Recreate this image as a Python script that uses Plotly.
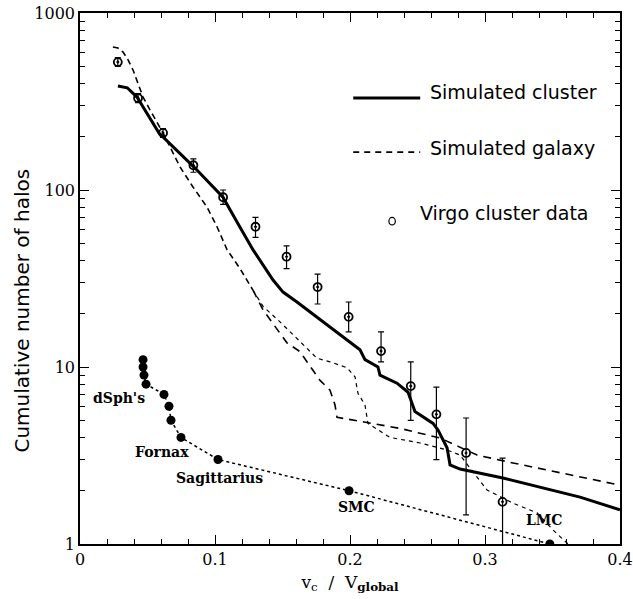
import math
import plotly.graph_objects as go

# Simulated cluster (solid): v_c / V_global and cumulative counts
cluster_v = [0.0281, 0.035, 0.0422, 0.0585, 0.0852, 0.1059, 0.1163, 0.1281, 0.1430,
             0.1504, 0.1607, 0.1704, 0.1867, 0.2000, 0.2074, 0.2111, 0.2207, 0.2222,
             0.2348, 0.2430, 0.2459, 0.2481, 0.2615, 0.2652, 0.2719, 0.2741, 0.2815,
             0.3133, 0.3704, 0.4000]
cluster_n = [387, 378, 335, 210, 133, 91, 66, 46, 31,
             26.5, 23.3, 20.5, 16.6, 13.8, 12.5, 11.0, 10.0, 9.0,
             8.1, 7.2, 6.3, 5.6, 4.8, 4.4, 3.5, 2.8, 2.65,
             2.36, 1.84, 1.56]

# Simulated galaxy (dashed), shared upper branch
galaxy_top_v = [0.0244, 0.0281, 0.0319, 0.0356, 0.0393, 0.0467, 0.0519, 0.0615, 0.0667,
                0.0741, 0.0837, 0.0941, 0.1015, 0.1089, 0.1185, 0.1281]
galaxy_top_n = [643, 634, 602, 543, 476, 335, 283, 210, 175,
                135, 104, 80, 62, 46, 36, 27.2]

# Galaxy branch that levels off towards high v
galaxy_a_v = [0.1281, 0.1356, 0.1533, 0.1630, 0.1681, 0.1778, 0.1852, 0.1889, 0.1904, 0.2163,
              0.2370, 0.2667, 0.2941, 0.3207, 0.3704, 0.4000]
galaxy_a_n = [27.2, 21.0, 13.7, 12.2, 10.7, 8.4, 7.4, 6.1, 5.2, 4.8,
              4.5, 3.97, 3.18, 2.87, 2.39, 2.15]

# Galaxy branch that falls off towards the LMC
galaxy_b_v = [0.1281, 0.1356, 0.1481, 0.1556, 0.1756, 0.1852, 0.1978, 0.2037, 0.2059, 0.2111,
              0.2133, 0.2296, 0.2519, 0.2719, 0.2815, 0.3015, 0.3207, 0.3385, 0.3504, 0.3615]
galaxy_b_n = [27.2, 22.0, 18.0, 15.8, 11.2, 10.7, 9.9, 8.8, 7.1, 6.1,
              4.8, 4.0, 3.72, 3.40, 3.18, 2.02, 1.70, 1.50, 1.2, 1.0]

# Virgo cluster data with error bars
virgo_v = [0.028, 0.043, 0.0615, 0.084, 0.106, 0.130, 0.153, 0.176, 0.199,
           0.223, 0.245, 0.264, 0.286, 0.313]
virgo_n = [528, 331, 210, 138, 91, 62, 42, 28.3, 19.2,
           12.3, 7.8, 5.4, 3.27, 1.73]
virgo_hi = [560, 350, 222, 150, 100, 70, 48.4, 33.5, 23.3,
            15.8, 10.7, 7.7, 5.15, 3.06]
virgo_lo = [500, 312, 198, 126, 83, 54, 36, 22.7, 15.8,
            10.7, 5.0, 3.0, 1.46, 0.9]

# Milky Way satellites
mw_v = [0.0467, 0.0467, 0.0474, 0.0489, 0.0622, 0.0659, 0.0674, 0.0748, 0.1022, 0.1993, 0.348]
mw_n = [11, 10, 9, 8, 7, 6, 5, 4, 3, 2, 1]

# Satellite labels
sat_labels = ["dSph's", "Fornax", "Sagittarius", "SMC", "LMC"]
sat_label_v = [0.029, 0.061, 0.103, 0.205, 0.344]
sat_label_n = [6.7, 3.3, 2.36, 1.62, 1.37]

legend_names = ["Simulated cluster", "Simulated galaxy", "Virgo cluster data"]

fig = go.Figure()

fig.add_trace(go.Scatter(x=galaxy_top_v, y=galaxy_top_n, mode="lines",
                         line=dict(color="black", width=1.6, dash="6px,4px"),
                         showlegend=False))
fig.add_trace(go.Scatter(x=galaxy_a_v, y=galaxy_a_n, mode="lines",
                         line=dict(color="black", width=1.6, dash="8px,6px"),
                         showlegend=False))
fig.add_trace(go.Scatter(x=galaxy_b_v, y=galaxy_b_n, mode="lines",
                         line=dict(color="black", width=1.2, dash="4px,4px"),
                         showlegend=False))
fig.add_trace(go.Scatter(x=cluster_v, y=cluster_n, mode="lines",
                         line=dict(color="black", width=3),
                         showlegend=False))

err_plus = [h - n for h, n in zip(virgo_hi, virgo_n)]
err_minus = [n - l for n, l in zip(virgo_n, virgo_lo)]
fig.add_trace(go.Scatter(x=virgo_v, y=virgo_n, mode="markers",
                         marker=dict(symbol="circle-open-dot", size=8, color="black",
                                     line=dict(width=1.8, color="black")),
                         error_y=dict(type="data", symmetric=False, array=err_plus,
                                      arrayminus=err_minus, thickness=1.2, width=3,
                                      color="black"),
                         showlegend=False))

fig.add_trace(go.Scatter(x=mw_v, y=mw_n, mode="lines+markers",
                         line=dict(color="black", width=1.5, dash="dot"),
                         marker=dict(symbol="circle", size=9, color="black"),
                         showlegend=False))

# annotation positions on a log axis are given in log10 units
for txt, xv, yv in zip(sat_labels, sat_label_v, sat_label_n):
    fig.add_annotation(x=xv, y=math.log10(yv), yref="y", xref="x", text=f"<b>{txt}</b>",
                       showarrow=False,
                       font=dict(family="DejaVu Serif", size=14, color="black"),
                       xanchor="center", yanchor="middle")

# Legend drawn in paper coordinates
fig.add_shape(type="line", xref="paper", yref="paper", x0=0.506, x1=0.630, y0=0.840, y1=0.840,
              line=dict(color="black", width=3))
fig.add_shape(type="line", xref="paper", yref="paper", x0=0.506, x1=0.630, y0=0.738, y1=0.738,
              line=dict(color="black", width=1.6, dash="6px,5px"))
fig.add_shape(type="circle", xref="paper", yref="paper", x0=0.572, x1=0.584, y0=0.601, y1=0.615,
              line=dict(color="black", width=1.2))
legend_y = [0.851, 0.746, 0.623]
legend_x = [0.644, 0.644, 0.626]
for name, lx, ly in zip(legend_names, legend_x, legend_y):
    fig.add_annotation(x=lx, y=ly, xref="paper", yref="paper", text=name, showarrow=False,
                       xanchor="left", yanchor="middle",
                       font=dict(family="DejaVu Sans", size=19, color="black"))

# vertical axis title, placed slightly below the axis centre
fig.add_annotation(x=-0.107, y=0.44, xref="paper", yref="paper",
                   text="Cumulative number of halos", textangle=-90, showarrow=False,
                   xanchor="center", yanchor="middle",
                   font=dict(family="DejaVu Sans", size=20, color="black"))

axis_font = dict(family="DejaVu Serif", size=16, color="black")
fig.update_xaxes(range=[0, 0.4], tickvals=[0, 0.1, 0.2, 0.3, 0.4],
                 ticktext=["0", "0.1", "0.2", "0.3", "0.4"], automargin=False,
                 ticks="inside", ticklen=9, tickwidth=1.2, tickcolor="black",
                 minor=dict(ticks="inside", dtick=0.02, ticklen=5, tickcolor="black"),
                 showline=True, linecolor="black", linewidth=1.5, mirror="ticks",
                 showgrid=False, zeroline=False, tickfont=axis_font,
                 title=dict(text="v<sub>c</sub>  /  V<sub><b>global</b></sub>",
                            font=dict(family="DejaVu Serif", size=17, color="black"),
                            standoff=8))
fig.update_yaxes(type="log", range=[0, 3], tickvals=[1, 10, 100, 1000],
                 ticktext=["1", "10", "100", "1000"], automargin=False,
                 ticks="inside", ticklen=9, tickwidth=1.2, tickcolor="black",
                 minor=dict(ticks="inside", dtick="D1", ticklen=5, tickcolor="black"),
                 showline=True, linecolor="black", linewidth=1.5, mirror="ticks",
                 showgrid=False, zeroline=False, tickfont=axis_font)

fig.update_layout(width=633, height=599, margin=dict(l=80, r=13, t=13, b=55),
                  paper_bgcolor="white", plot_bgcolor="white", showlegend=False)

fig.write_html("out.html")
